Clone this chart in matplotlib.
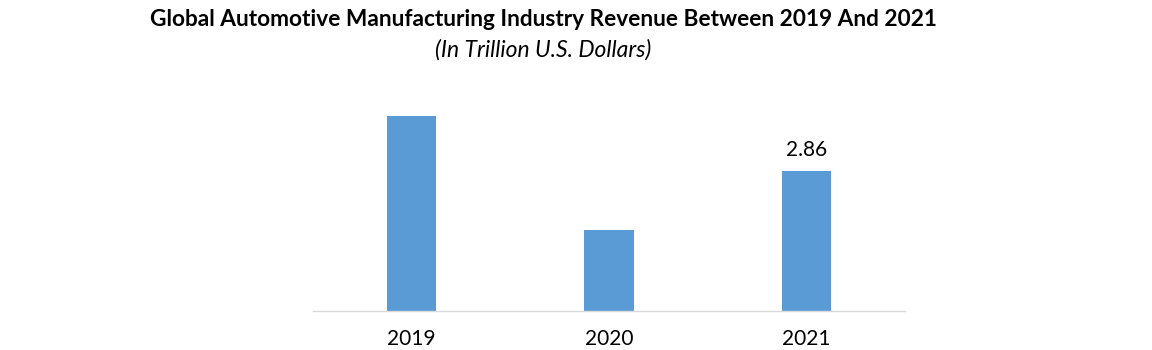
import matplotlib.pyplot as plt

# Datos
anios = ["2019", "2020", "2021"]
ingresos = [3.99, 1.65, 2.86]
etiquetas_valor = ["", "", "2.86"]

plt.rcParams['font.family'] = ['Lato', 'DejaVu Sans']

fig = plt.figure(figsize=(11.52, 3.5), dpi=100)
ax = fig.add_axes([313 / 1152, 1 - 311 / 350, (905 - 313) / 1152, (311 - 80) / 350])

posiciones = range(len(anios))
barras = ax.bar(posiciones, ingresos, width=0.25, color="#5b9bd5")

# Solo el último valor lleva etiqueta
for barra, texto in zip(barras, etiquetas_valor):
    if texto:
        ax.annotate(texto, (barra.get_x() + barra.get_width() / 2, barra.get_height()),
                    xytext=(0, 8), textcoords="offset points",
                    ha="center", va="bottom", fontsize=15, color="#000000")

ax.set_xlim(-0.5, 2.5)
ax.set_ylim(0, 0.020429 * 231)
ax.set_xticks(list(posiciones))
ax.set_xticklabels(anios, fontsize=15)
ax.tick_params(axis="x", length=0, pad=13)
ax.set_yticks([])
for lado in ["top", "right", "left"]:
    ax.spines[lado].set_visible(False)
ax.spines["bottom"].set_color("#d9d9d9")
ax.spines["bottom"].set_linewidth(1)

fig.text(543 / 1152, 1 - 20 / 350, "Global Automotive Manufacturing Industry Revenue Between 2019 And 2021",
         ha="center", va="center", fontsize=16.3, fontweight="bold")
fig.text(543 / 1152, 1 - 50 / 350, "(In Trillion U.S. Dollars)",
         ha="center", va="center", fontsize=16.5, style="italic")

fig.savefig("out.png", dpi=100)
